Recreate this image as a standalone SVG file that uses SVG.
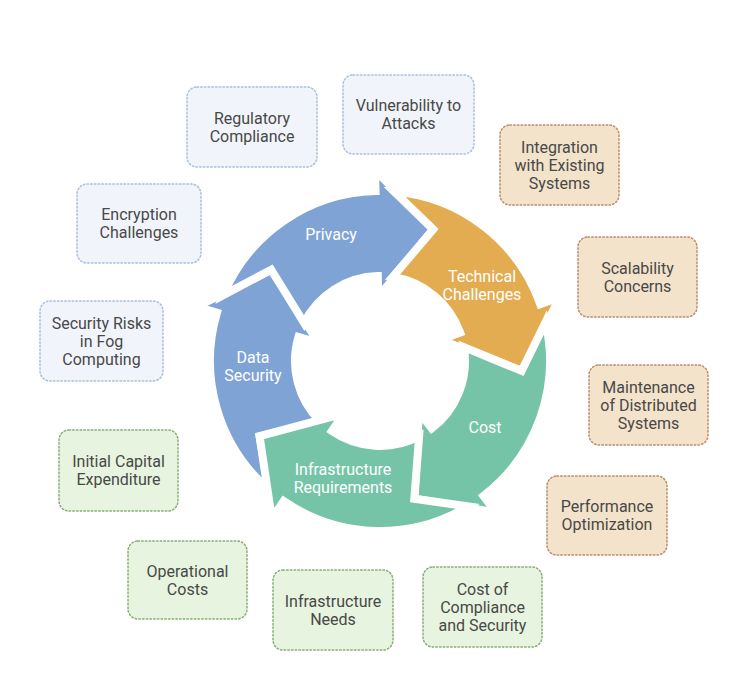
<svg xmlns="http://www.w3.org/2000/svg" xmlns:xlink="http://www.w3.org/1999/xlink" width="750" height="676" viewBox="0 0 750 676">
<style>
.bx{stroke-width:1.5;stroke-dasharray:1.5 2.2;stroke-linecap:round}
.b{fill:#f1f5fb;stroke:#aabfdf}
.o{fill:#f3e3cb;stroke:#c08a6c}
.g{fill:#e7f4df;stroke:#88ae78}
.t{font-family:Roboto,"Liberation Sans",sans-serif;font-size:16px;fill:#484848;text-anchor:middle}
.w{font-family:Roboto,"Liberation Sans",sans-serif;font-size:16px;fill:#fff;text-anchor:middle}
.arr{stroke:#fff;stroke-width:8;stroke-linejoin:miter}
</style>
<defs>
<path id="arrow" d="M69.95 -154.95 A170 170 0 0 1 170 0 L191 0 L130.22 56.62 L64 0 L85 0 A85 85 0 0 0 40.06 -74.96 L94.09 -106.35 Z"/>
</defs>
<rect width="750" height="676" fill="#fff"/>
<g id="connectors">
<use xlink:href="#arrow" class="arr" fill="#7fa3d4" transform="translate(380 361) rotate(196.5)"/>
<use xlink:href="#arrow" class="arr" fill="#7fa3d4" transform="translate(380 361) rotate(268.5)"/>
<use xlink:href="#arrow" class="arr" fill="#e3ac50" transform="translate(380 361) rotate(340.5)"/>
<use xlink:href="#arrow" class="arr" fill="#76c4a8" transform="translate(380 361) rotate(52.5)"/>
<use xlink:href="#arrow" class="arr" fill="#76c4a8" transform="translate(380 361) rotate(124.5)"/>
</g>
<g id="stage-privacy"><text class="w" x="331" y="239.5">Privacy</text></g>
<g id="stage-technical"><text class="w" x="482" y="281.5">Technical</text><text class="w" x="482" y="299.5">Challenges</text></g>
<g id="stage-cost"><text class="w" x="485" y="432.5">Cost</text></g>
<g id="stage-infra"><text class="w" x="343" y="474.5">Infrastructure</text><text class="w" x="343" y="492.5">Requirements</text></g>
<g id="stage-data"><text class="w" x="253" y="362.5">Data</text><text class="w" x="253" y="380.5">Security</text></g>

<g id="regulatory"><rect class="bx b" x="187" y="87" width="130" height="80" rx="10"/><text class="t" x="252" y="123.5">Regulatory</text><text class="t" x="252" y="141.5">Compliance</text></g>
<g id="vulnerability"><rect class="bx b" x="343" y="75" width="131" height="79" rx="10"/><text class="t" x="408.5" y="110.5">Vulnerability to</text><text class="t" x="408.5" y="128.5">Attacks</text></g>
<g id="encryption"><rect class="bx b" x="77" y="184" width="124" height="79" rx="10"/><text class="t" x="139" y="220">Encryption</text><text class="t" x="139" y="238">Challenges</text></g>
<g id="security-risks"><rect class="bx b" x="40" y="301" width="123" height="80" rx="10"/><text class="t" x="101.5" y="328.5">Security Risks</text><text class="t" x="101.5" y="346.5">in Fog</text><text class="t" x="101.5" y="364.5">Computing</text></g>

<g id="integration"><rect class="bx o" x="500" y="125" width="119" height="80" rx="10"/><text class="t" x="559.5" y="152.5">Integration</text><text class="t" x="559.5" y="170.5">with Existing</text><text class="t" x="559.5" y="188.5">Systems</text></g>
<g id="scalability"><rect class="bx o" x="578" y="237" width="119" height="80" rx="10"/><text class="t" x="637.5" y="273.5">Scalability</text><text class="t" x="637.5" y="291.5">Concerns</text></g>
<g id="maintenance"><rect class="bx o" x="589" y="365" width="119" height="80" rx="10"/><text class="t" x="648.5" y="392.5">Maintenance</text><text class="t" x="648.5" y="410.5">of Distributed</text><text class="t" x="648.5" y="428.5">Systems</text></g>
<g id="performance"><rect class="bx o" x="547" y="476" width="120" height="79" rx="10"/><text class="t" x="607" y="512">Performance</text><text class="t" x="607" y="530">Optimization</text></g>

<g id="cost-compliance"><rect class="bx g" x="423" y="567" width="119" height="80" rx="10"/><text class="t" x="482.5" y="594.5">Cost of</text><text class="t" x="482.5" y="612.5">Compliance</text><text class="t" x="482.5" y="630.5">and Security</text></g>
<g id="infra-needs"><rect class="bx g" x="273" y="570" width="120" height="80" rx="10"/><text class="t" x="333" y="606.5">Infrastructure</text><text class="t" x="333" y="624.5">Needs</text></g>
<g id="operational"><rect class="bx g" x="128" y="541" width="119" height="78" rx="10"/><text class="t" x="187.5" y="576.5">Operational</text><text class="t" x="187.5" y="594.5">Costs</text></g>
<g id="initial-capital"><rect class="bx g" x="59" y="430" width="119" height="81" rx="10"/><text class="t" x="118.5" y="467">Initial Capital</text><text class="t" x="118.5" y="485">Expenditure</text></g>
</svg>
